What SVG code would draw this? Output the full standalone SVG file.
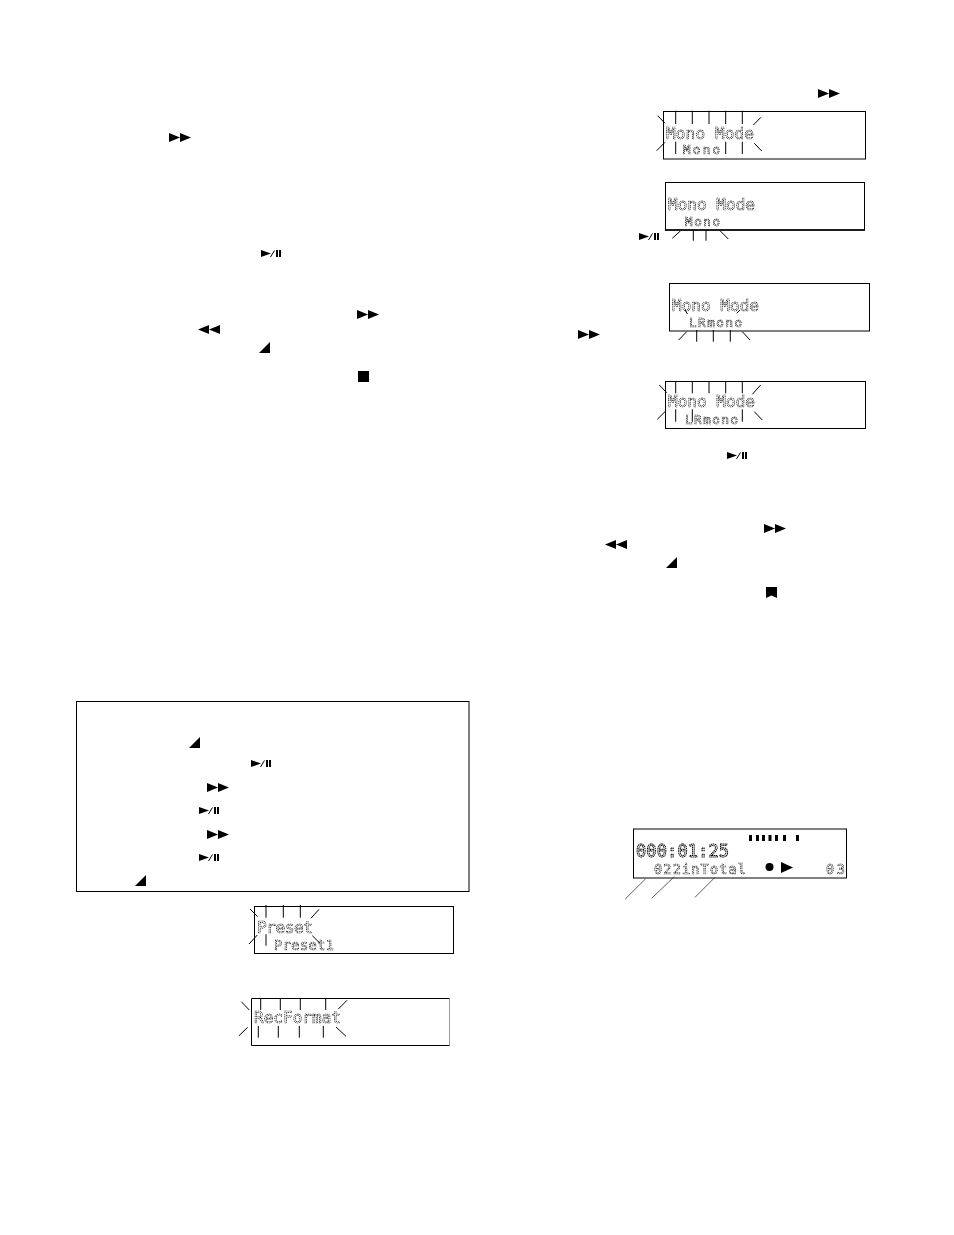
<svg xmlns="http://www.w3.org/2000/svg" width="954" height="1235" viewBox="0 0 954 1235">
<style>
.lcd{fill:#fff;stroke:#000;stroke-width:1}
.ray{stroke:#000;stroke-width:1;fill:none}
.lead{stroke:#333;stroke-width:.8;fill:none}
.m{font-family:"DejaVu Sans Mono","Liberation Mono",monospace;font-size:16px;fill:none;stroke:#000;stroke-width:.7;stroke-dasharray:1.1 .7;filter:url(#gray)}
.s{font-size:12.5px}
.b{font-size:17px;stroke-width:1;stroke-dasharray:1.4 .6}
.t{font-size:13.5px}
</style>
<defs>
<filter id="gray" x="-5%" y="-10%" width="110%" height="120%" color-interpolation-filters="sRGB"><feColorMatrix type="saturate" values="0"/></filter>
<g id="ff"><path d="M0 0L11 4.500L0 9ZM11 0L22 4.500L11 9Z"/></g>
<g id="rw"><path d="M11 0L0 4.500L11 9ZM22 0L11 4.500L22 9Z"/></g>
<g id="pp"><path d="M0 0L10 3.500L0 7ZM15 0h2v7h-2ZM18 0h2v7h-2Z"/><path d="M9.500 7L13.500 0.500" stroke="#000" stroke-width="1" fill="none"/></g>
<g id="vol"><path d="M0 11L11 0V11Z"/></g>
</defs>
<rect width="954" height="1235" fill="#fff"/>

<g id="left-icons">
<use href="#ff" x="169" y="133"/>
<use href="#pp" x="261" y="250"/>
<use href="#ff" x="357" y="310"/>
<use href="#rw" x="198" y="325"/>
<use href="#vol" x="259" y="342"/>
<rect x="358" y="371" width="11" height="11"/>
</g>

<g id="right-icons">
<use href="#ff" x="818" y="89"/>
<use href="#pp" x="639" y="233"/>
<use href="#ff" x="578" y="330"/>
<use href="#pp" x="727" y="452"/>
<use href="#ff" x="764" y="524"/>
<use href="#rw" x="605" y="540"/>
<use href="#vol" x="666" y="557"/>
<path d="M766 587h11v11l-5.500-2.500l-5.500 2.500Z"/>
</g>

<g id="steps-box">
<rect x="76.500" y="701.500" width="392.500" height="190" fill="#fff" stroke="#000"/>
<use href="#vol" x="189" y="737"/>
<use href="#pp" x="251" y="760"/>
<use href="#ff" x="207" y="783"/>
<use href="#pp" x="199" y="807"/>
<use href="#ff" x="207" y="830"/>
<use href="#pp" x="199" y="854"/>
<use href="#vol" x="135" y="875"/>
</g>

<g id="lcd-mono-1">
<rect class="lcd" x="663.500" y="111.500" width="202" height="47.500"/>
<text class="m" x="666" y="138.500" textLength="88">Mono Mode</text>
<text class="m s" x="683" y="154" textLength="37">Mono</text>
</g>
<g id="lcd-mono-2">
<rect class="lcd" x="665.500" y="182.500" width="199" height="47.500"/>
<path d="M665 230h200" stroke="#000" stroke-width="1.600"/>
<text class="m" x="668" y="210" textLength="87">Mono Mode</text>
<text class="m s" x="685" y="225.500" textLength="35">Mono</text>
</g>
<g id="lcd-mono-3">
<rect class="lcd" x="669.500" y="283.500" width="200" height="47.500"/>
<text class="m" x="672" y="310.500" textLength="87">Mono Mode</text>
<text class="m s" x="689" y="326.500" textLength="53">LRmono</text>
</g>
<g id="lcd-mono-4">
<rect class="lcd" x="665.500" y="381.500" width="200" height="47"/>
<text class="m" x="668" y="407" textLength="87">Mono Mode</text>
<text class="m s" x="685" y="424" textLength="53">LRmono</text>
</g>
<g id="lcd-preset">
<rect class="lcd" x="254.500" y="906.500" width="199" height="47"/>
<text class="m" x="257" y="933" textLength="56">Preset</text>
<text class="m t" x="274" y="949.500" textLength="60">Preset1</text>
</g>
<g id="lcd-recformat">
<path class="lcd" d="M449.500 998.500H251.500V1045.500H449.500"/>
<path d="M449.500 998.500V1045.500" stroke="#999" fill="none"/>
<text class="m" x="254" y="1022.500" textLength="87">RecFormat</text>
</g>
<g id="lcd-total">
<rect class="lcd" x="633.500" y="829" width="213" height="49"/>
<text class="m b" x="636" y="856.500" textLength="93">000:01:25</text>
<text class="m t" x="654" y="873.500" textLength="92">022inTotal</text>
<text class="m t" x="826" y="873.500" textLength="19">03</text>
<path d="M749 835h3v6h-3ZM756 835h3v6h-3ZM762 835h3v6h-3ZM768.500 835h3v6h-3ZM775 835h3v6h-3ZM783 835h3v6h-3ZM796 835h3v6h-3Z"/>
<circle cx="769.500" cy="867" r="4"/>
<path d="M781 862L793 867.500L781 873Z"/>
</g>

<g id="connectors">
<path class="ray" d="M675.700 110.700V124M692.300 110.700V124M709 110.700V124M725.700 110.700V124M742.300 110.700V124M657.700 115.700L665 123.300M753.300 125L761 117.300M656.700 150.700L665 142.300M675.700 141.700V154M725.700 141.700V154M742.300 141.700V154M754.300 143.300L761.700 151"/>
<path class="ray" d="M672.300 238.300L680.700 230.700M693.300 230V240.700M706 230V240.700M720 230.700L728.300 239"/>
<path class="ray" d="M678.700 340L686.700 331.700M696.700 330V341.700M713.300 330V341.700M730.300 330V341.700M742.300 331.700L750 340M685 310L687.500 314M736.700 313.300L740 310"/>
<path class="ray" d="M675.700 381.700V393.300M692.300 381.700V393.300M709 381.700V393.300M725.700 381.700V393.300M742.300 381.700V393.300M659.300 385L666.700 392.700M752.300 394.300L760.700 385M657.300 419.300L665.700 411M675.700 409.300V421.700M692.300 409.300V421.700M742.300 409.300V421.700M754.300 411.700L762.300 420"/>
<path class="ray" d="M266 905V917.700M283.300 905V917.700M300.300 905V917.700M250 909L257.700 916.700M311 918.300L319 909.300M249 944L257.300 935M266 934.300V945.700M312.300 935.700L320 943.300"/>
<path class="ray" d="M241.300 1001.700L249.300 1010M260.700 999V1010M280.300 999V1010M300.300 999V1010M325.700 999V1010M338.300 1009L347 1000.300M239 1035.700L247.700 1027.300M258.300 1026V1037.700M278.300 1026V1037.700M299.300 1026V1037.700M323.300 1026V1037.700M336 1027L346 1036.300"/>
<path class="lead" d="M625.300 899L645.700 878.700M651.700 898.300L674.300 876.700M695 897.300L715 877.300"/>
</g>
</svg>
